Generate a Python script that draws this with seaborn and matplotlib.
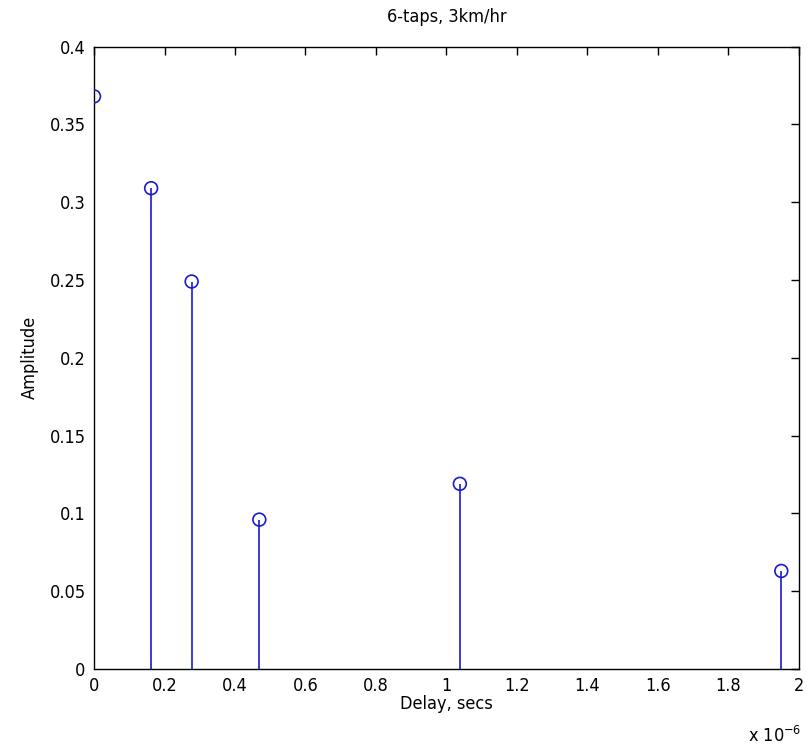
import matplotlib
matplotlib.use('Agg')
import matplotlib.pyplot as plt
import seaborn as sns
import pandas as pd
from matplotlib.ticker import FuncFormatter

# tap delays (units of 1e-6 s) and amplitudes
delay_us = [0.0, 0.162, 0.277, 0.469, 1.038, 1.950]
amplitude = [0.368, 0.309, 0.249, 0.096, 0.119, 0.063]
xticks = [0, 0.2, 0.4, 0.6, 0.8, 1, 1.2, 1.4, 1.6, 1.8, 2]
yticks = [0, 0.05, 0.1, 0.15, 0.2, 0.25, 0.3, 0.35, 0.4]

df = pd.DataFrame({'delay': delay_us, 'amp': amplitude})

sns.set_style('white')
plt.rcParams['font.family'] = ['DejaVu Sans']
plt.rcParams['font.stretch'] = 'condensed'
plt.rcParams['text.color'] = 'black'
plt.rcParams['axes.labelcolor'] = 'black'

fig = plt.figure(figsize=(8.07, 7.49), dpi=100)
ax = fig.add_axes([0.1165, 0.1068, 0.8735, 0.831])

col = '#1a1ad0'
ax.vlines(df['delay'], 0, df['amp'], color=col, lw=1.2)
sns.scatterplot(data=df, x='delay', y='amp', ax=ax, marker='o', s=85,
                facecolors='none', edgecolor=col, linewidth=1.2, zorder=3)

ax.set_xlim(0, 2)
ax.set_ylim(0, 0.4)
ax.set_xticks(xticks)
ax.set_yticks(yticks)
fmt = FuncFormatter(lambda v, p: '%g' % round(v, 3))
ax.xaxis.set_major_formatter(fmt)
ax.yaxis.set_major_formatter(fmt)
ax.tick_params(direction='in', length=6, width=1, labelsize=13, colors='black',
               top=True, right=True, pad=6)
for s in ax.spines.values():
    s.set_color('black')
    s.set_linewidth(1)

ax.set_xlabel('Delay, secs', fontsize=13, labelpad=0)
ax.set_ylabel('Amplitude', fontsize=13, labelpad=8)
ax.set_title('6-taps, 3km/hr', fontsize=13, pad=18)
fig.text(0.993, 0.004, 'x 10$^{-6}$', fontsize=13, ha='right', va='bottom')

fig.savefig('out.png', dpi=100, facecolor='white')
